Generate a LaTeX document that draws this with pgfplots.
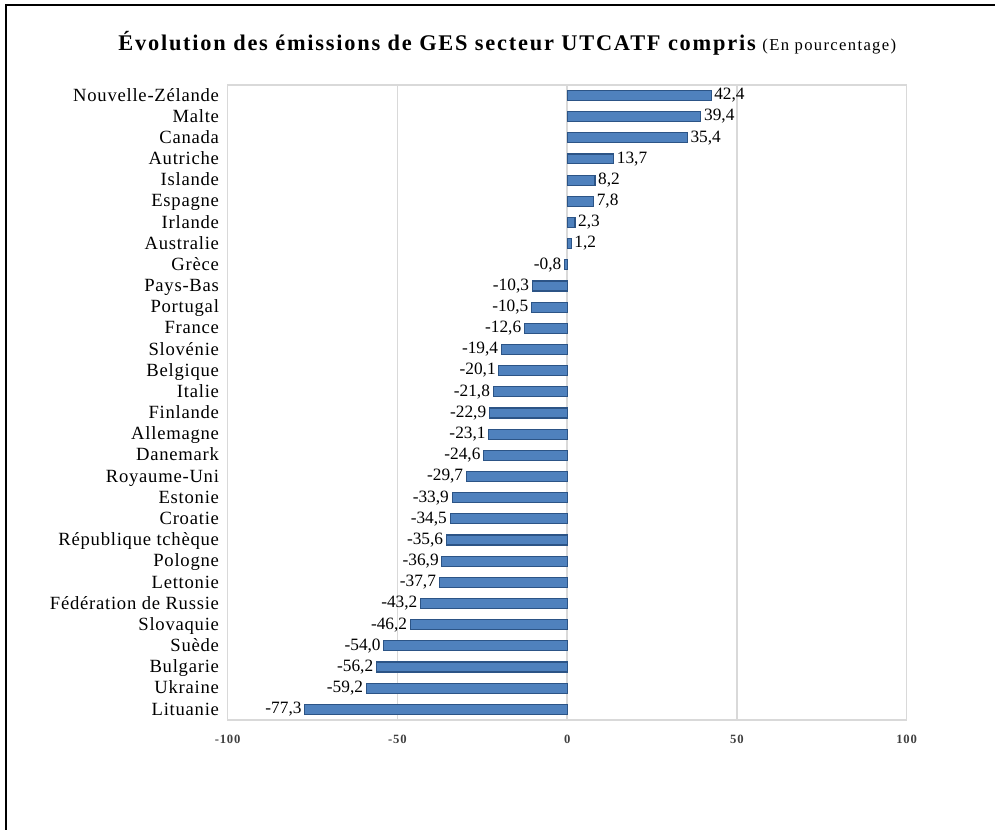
\documentclass[border=0pt]{standalone}
\usepackage{fontspec}
\setmainfont{Liberation Serif}
\newfontfamily\catfont[LetterSpace=4]{Liberation Serif}
\newfontfamily\titlefont[LetterSpace=8]{Liberation Serif}
\newfontfamily\tickfont[LetterSpace=6]{Liberation Serif}
\usepackage{pgfplots}
\usepackage{pgfplotstable}
\pgfplotsset{compat=1.18}
\definecolor{barfill}{HTML}{4F81BD}
\definecolor{barline}{HTML}{2C5486}
\definecolor{gridc}{HTML}{D9D9D9}
\definecolor{tickc}{HTML}{404040}
\pgfplotstableread{
idx val
0 42.4
1 39.4
2 35.4
3 13.7
4 8.2
5 7.8
6 2.3
7 1.2
8 -0.8
9 -10.3
10 -10.5
11 -12.6
12 -19.4
13 -20.1
14 -21.8
15 -22.9
16 -23.1
17 -24.6
18 -29.7
19 -33.9
20 -34.5
21 -35.6
22 -36.9
23 -37.7
24 -43.2
25 -46.2
26 -54.0
27 -56.2
28 -59.2
29 -77.3
}\data
\begin{document}
\begin{tikzpicture}
\path (0pt,0pt) rectangle (747pt,623.25pt);
\draw[line width=2.2pt] (4.5pt,0pt) -- (4.5pt,619.5pt) -- (747pt,619.5pt);
\node at (381pt,591pt) {{\titlefont\bfseries\fontsize{16.8}{20}\selectfont Évolution des émissions de GES secteur UTCATF compris}\hspace{5pt}{\titlefont\fontsize{12.5}{15}\selectfont (En pourcentage)}};
\begin{axis}[
  at={(171pt,82.5pt)}, anchor=south west,
  scale only axis, width=510pt, height=477pt,
  xbar, bar width=7.5pt,
  xmin=-100, xmax=100, ymin=-0.5, ymax=29.5,
  y dir=reverse,
  xtick={-100,-50,0,50,100},
  xticklabels={-100,-50,0,50,100},
  ytick={0,...,29},
  yticklabels={Nouvelle-Zélande,Malte,Canada,Autriche,Islande,Espagne,Irlande,Australie,Grèce,Pays-Bas,Portugal,France,Slovénie,Belgique,Italie,Finlande,Allemagne,Danemark,Royaume-Uni,Estonie,Croatie,République tchèque,Pologne,Lettonie,Fédération de Russie,Slovaquie,Suède,Bulgarie,Ukraine,Lituanie},
  major tick length=0pt,
  xmajorgrids, grid style={gridc, line width=1.1pt},
  axis line style={gridc, line width=1.1pt},
  yticklabel style={font=\catfont\fontsize{14}{15}\selectfont, xshift=-3pt, yshift=-1pt, text height=9.5pt, text depth=3pt},
  xticklabel style={font=\tickfont\bfseries\fontsize{9.5}{11}\selectfont, text=tickc, yshift=-8pt},
  nodes near coords={\pgfmathprintnumber[fixed,zerofill,precision=1,use comma,assume math mode=true]{\pgfplotspointmeta}},
  nodes near coords align=horizontal,
  every node near coord/.append style={font=\fontsize{13}{14}\selectfont, inner sep=2pt, text height=9pt, text depth=2.5pt},
  point meta=x,
]
\addplot[fill=barfill, draw=barline, line width=0.8pt] table[x=val, y=idx] {\data};
\end{axis}
\end{tikzpicture}
\end{document}
